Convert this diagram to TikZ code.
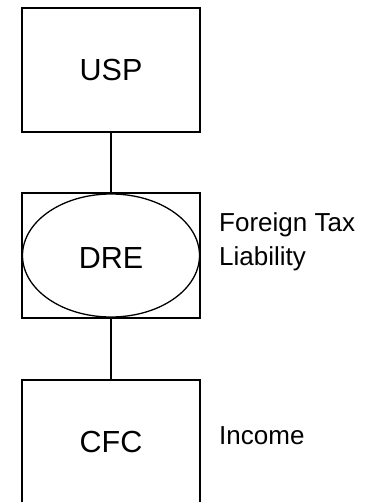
\documentclass[tikz,border=0pt]{standalone}
\usepackage{fontspec}
\setmainfont{Liberation Sans}
\usetikzlibrary{shapes.geometric}
\begin{document}
\begin{tikzpicture}[x=1pt,y=-1pt,
  entity/.style={draw, line width=2pt, minimum width=178pt, minimum height=124pt,
    inner sep=0pt, font=\fontsize{30.5}{36}\selectfont},
  hybrid/.style={draw, ellipse, line width=1.3pt, minimum width=177pt, minimum height=123pt,
    inner sep=0pt},
  note/.style={inner sep=0pt, align=left, font=\fontsize{26}{33}\selectfont},
  link/.style={line width=2pt}]
  \useasboundingbox (0,0) rectangle (364,502);
  \begin{scope}
    \clip (0,0) rectangle (364,502);
    \node[entity] (usp) at (111,70) {USP};
    \node[entity] (dre) at (111,255.5) {};
    \node[hybrid] (dreell) at (111,255.5) {};
    \node[font=\fontsize{30.5}{36}\selectfont, inner sep=0pt] (drelabel) at (111,258) {DRE};
    \node[entity] (cfc) at (111,442) {CFC};
    \draw[link] (usp.south) -- (dre.north);
    \draw[link] (dre.south) -- (cfc.north);
    \node[note, anchor=base west] (ftl) at (219,265) {Foreign Tax\\Liability};
    \node[note, anchor=base west] (inc) at (219,444) {Income};
  \end{scope}
\end{tikzpicture}
\end{document}
